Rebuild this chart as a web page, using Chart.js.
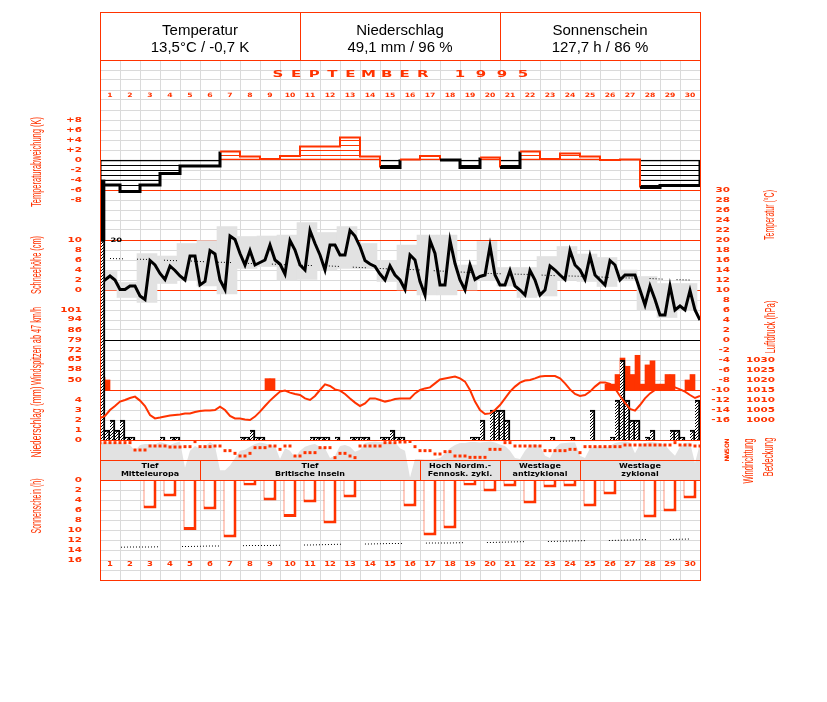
<!DOCTYPE html>
<html lang="de">
<head>
<meta charset="utf-8">
<title>Witterungsverlauf September 1995</title>
<script src="https://cdn.jsdelivr.net/npm/chart.js@4.4.1/dist/chart.umd.min.js"></script>
<style>
  body { margin: 0; background: #fff; }
  canvas { display: block; }
</style>
</head>
<body>
<canvas id="monat" width="827" height="702"></canvas>
<script>
// Witterungsverlauf September 1995 (Tageswerte und 6-stuendliche Termine)

const tage = ['1', '2', '3', '4', '5', '6', '7', '8', '9', '10',
              '11', '12', '13', '14', '15', '16', '17', '18', '19', '20',
              '21', '22', '23', '24', '25', '26', '27', '28', '29', '30'];
const kopfTitel = ['Temperatur', 'Niederschlag', 'Sonnenschein'];
const kopfWerte = ['13,5°C / -0,7 K', '49,1 mm / 96 %', '127,7 h / 86 %'];
const monat = 'SEPTEMBER';
const jahr = '1995';

// Abweichung des Tagesmittels vom Normalwert (K)
const abweichung = [-5.0, -6.3, -5.0, -2.7, -1.2, -1.2, 1.7, 0.7, 0.2, 0.8,
                    2.7, 2.7, 4.5, 0.7, -1.5, 0.1, 0.8, 0.0, -1.5, 0.5,
                    -1.5, 1.7, 0.2, 1.3, 0.7, 0.0, 0.1, -5.5, -5.1, -5.1];

// Lufttemperatur (°C) alle 6 Stunden, 1. 0 Uhr bis 30. 24 Uhr
const temperatur = [11.5, 12.0, 12.8, 12.0, 10.1, 10.1, 10.8, 10.8, 8.8, 8.1,
                    15.9, 15.0, 13.3, 12.1, 14.8, 13.9, 12.8, 12.0, 16.8, 16.8,
                    11.0, 11.7, 17.9, 17.2, 12.0, 10.1, 20.8, 20.1, 17.3, 15.0,
                    17.9, 15.0, 15.5, 16.0, 19.0, 16.0, 15.2, 13.2, 19.9, 18.0,
                    15.0, 14.0, 21.9, 19.3, 17.0, 14.0, 19.0, 19.0, 17.0, 17.0,
                    21.9, 20.8, 18.7, 15.9, 15.2, 14.7, 13.2, 12.0, 14.8, 13.0,
                    12.0, 10.1, 17.0, 16.0, 11.7, 9.0, 19.9, 17.3, 11.0, 11.0,
                    19.9, 15.3, 12.0, 10.0, 15.0, 12.1, 12.7, 13.0, 18.8, 13.0,
                    11.0, 11.0, 13.9, 10.8, 10.0, 9.0, 13.9, 12.0, 9.0, 10.0,
                    14.8, 14.0, 13.0, 12.1, 17.9, 15.0, 14.0, 12.1, 16.8, 13.0,
                    12.0, 11.0, 15.9, 15.0, 12.0, 13.0, 13.0, 13.0, 10.0, 7.0,
                    10.8, 8.1, 5.0, 5.0, 10.8, 6.0, 6.8, 6.0, 9.9, 6.0, 4.0];

// Tagesminimum und -maximum (°C)
const tMin = [10.0, 8.5, 7.5, 11.3, 11.9, 10.8, 9.2, 14.3, 14.7, 12.0,
              12.1, 14.0, 14.3, 14.3, 11.7, 10.0, 9.0, 9.0, 10.0, 12.0,
              10.8, 8.5, 8.8, 12.0, 11.7, 10.7, 12.0, 6.0, 4.5, 5.9];
const tMax = [13.7, 11.5, 17.3, 16.8, 19.3, 19.9, 22.7, 20.7, 20.8, 21.0,
              23.5, 21.5, 22.7, 19.3, 15.9, 19.0, 21.0, 21.0, 15.0, 19.7,
              14.5, 14.5, 16.7, 18.7, 17.2, 16.5, 14.0, 12.7, 11.3, 11.3];
// langjaehriges Tagesmittel (°C)
const tNormal = [16.3, 16.2, 16.1, 15.9, 15.8, 15.6, 15.5, 15.3, 15.2, 15.0,
                 14.9, 14.8, 14.6, 14.4, 14.2, 14.1, 13.9, 13.7, 13.5, 13.3,
                 13.2, 13.1, 12.9, 12.8, 12.7, 12.5, 12.4, 12.3, 12.1, 12.0];

// Niederschlag (mm je 6 h), nur Termine mit Niederschlag
const niederschlagTermin = [0, 1, 2, 3, 4, 5, 6, 12, 14, 15,
                            28, 29, 30, 31, 32, 42, 43, 44, 45, 47,
                            50, 51, 52, 53, 56, 57, 58, 59, 60, 74,
                            75, 76, 78, 79, 80, 81, 90, 94, 98, 102,
                            103, 104, 105, 106, 107, 109, 110, 114, 115, 116,
                            118, 119];
const niederschlagMm = [26.0, 1.0, 2.0, 1.0, 2.0, 0.3, 0.3, 0.3, 0.3, 0.3,
                        0.3, 0.3, 1.0, 0.3, 0.3, 0.3, 0.3, 0.3, 0.3, 0.3,
                        0.3, 0.3, 0.3, 0.3, 0.3, 0.3, 1.0, 0.3, 0.3, 0.3,
                        0.3, 2.0, 3.0, 3.0, 3.0, 2.0, 0.3, 0.3, 3.0, 0.3,
                        4.0, 8.0, 4.0, 2.0, 2.0, 0.3, 1.0, 1.0, 1.0, 0.3,
                        1.0, 4.0];
const niederschlagSkala = 20;   // darueber abgeschnitten und beschriftet

// Windspitzen (km/h je 6 h), nur Termine ueber der Schwelle
const windTermin = [0, 1, 33, 34, 101, 102, 103, 104, 105, 106,
                    107, 108, 109, 110, 111, 112, 113, 114, 117, 118];
const windKmh = [52, 50, 51, 51, 47, 47, 54, 66, 60, 54,
                 68, 47, 61, 64, 47, 47, 54, 54, 50, 54];
const windBasis = 42.7;

// Luftdruck (hPa) alle 6 Stunden
const luftdruck = [1001.0, 1002.0, 1005.0, 1007.0, 1009.2, 1010.0, 1011.0, 1011.7, 1009.7, 1007.0,
                   1002.5, 1000.8, 1001.2, 1001.7, 1002.2, 1002.5, 1002.8, 1003.3, 1003.3, 1004.0,
                   1004.5, 1004.7, 1004.7, 1005.0, 1006.7, 1005.0, 1002.0, 1000.8, 1000.8, 1000.3,
                   1000.0, 1001.7, 1004.2, 1007.0, 1009.7, 1012.0, 1014.2, 1014.7, 1013.7, 1013.0,
                   1012.5, 1010.8, 1010.0, 1012.0, 1015.0, 1017.8, 1017.0, 1015.3, 1014.7, 1013.0,
                   1010.8, 1008.7, 1007.0, 1008.3, 1010.8, 1010.8, 1010.0, 1009.2, 1009.7, 1010.5,
                   1010.8, 1010.8, 1010.8, 1013.3, 1015.0, 1015.8, 1016.3, 1018.3, 1020.3, 1020.8,
                   1021.3, 1021.7, 1020.8, 1019.2, 1015.0, 1009.2, 1005.0, 1003.0, 1003.3, 1005.0,
                   1007.5, 1010.8, 1014.2, 1016.7, 1018.7, 1019.7, 1020.0, 1020.8, 1021.7, 1022.0,
                   1022.0, 1022.0, 1020.8, 1018.3, 1015.3, 1013.0, 1012.0, 1012.5, 1014.2, 1016.7,
                   1018.7, 1018.8, 1018.0, 1015.8, 1012.0, 1008.5, 1005.5, 1004.7, 1007.5, 1010.8,
                   1013.3, 1015.0, 1016.7, 1017.0, 1016.7, 1016.3, 1015.3, 1014.2, 1012.5, 1011.0, 1012.0];

// Windrichtung (Grad) alle 6 Stunden
const windrichtung = [33, 33, 33, 33, 33, 33, 33, 180, 180, 180,
                      100, 100, 100, 100, 120, 120, 120, 113, 113, 13,
                      113, 113, 113, 100, 100, 193, 193, 247, 300, 300,
                      247, 133, 133, 133, 100, 100, 167, 100, 100, 300,
                      300, 233, 233, 233, 133, 133, 133, 333, 247, 247,
                      300, 333, 100, 100, 100, 100, 100, 33, 33, 33,
                      20, 20, 10, 113, 193, 193, 193, 260, 260, 213,
                      213, 300, 300, 300, 327, 327, 327, 327, 167, 167,
                      167, 33, 33, 100, 100, 100, 100, 100, 100, 193,
                      193, 193, 193, 193, 167, 167, 233, 113, 113, 113,
                      113, 113, 113, 113, 113, 80, 80, 80, 80, 80,
                      80, 80, 80, 80, 80, 33, 80, 80, 80, 100, 100];

// Bedeckung (Achtel) alle 6 Stunden
const bedeckung = [7.7, 7.7, 7.7, 7.7, 7.6, 7.4, 7.2, 6.0, 7.2, 7.4,
                   7.4, 7.3, 7.8, 7.5, 7.2, 7.6, 7.9, 2.5, 6.0, 7.0,
                   6.4, 6.8, 7.8, 7.0, 2.0, 2.0, 3.0, 4.5, 6.0, 6.2,
                   6.8, 7.4, 7.7, 7.5, 7.2, 7.0, 4.3, 6.5, 6.0, 4.6,
                   6.0, 6.8, 7.2, 7.4, 6.8, 6.5, 4.5, 5.0, 7.0, 7.2,
                   6.8, 5.8, 6.2, 7.6, 7.8, 7.9, 7.8, 7.7, 7.8, 7.7,
                   6.5, 6.0, 0.5, 4.3, 4.3, 4.2, 4.2, 4.3, 4.5, 5.5,
                   6.5, 7.2, 7.6, 7.6, 7.8, 7.8, 7.7, 7.8, 7.9, 7.7,
                   7.3, 7.0, 6.0, 4.5, 4.3, 6.0, 7.2, 7.4, 7.0, 5.0,
                   4.5, 6.5, 7.5, 7.6, 7.7, 7.7, 5.0, 4.5, 6.5, 6.8,
                   7.0, 6.6, 7.0, 7.6, 7.8, 7.9, 7.7, 5.5, 7.4, 7.6,
                   7.8, 7.7, 7.6, 7.2, 6.0, 5.0, 6.8, 7.6, 7.7, 3.5, 7.5];

// Sonnenscheindauer (h) je Tag und astronomisch moegliche Dauer
const sonnenschein = [0, 0, 5.7, 3.3, 10.0, 5.9, 11.5, 1.1, 4.1, 7.4,
                      4.5, 8.7, 3.5, 0, 0, 5.3, 11.1, 9.7, 1.1, 2.3,
                      1.3, 4.7, 1.5, 1.3, 5.3, 2.9, 0, 7.5, 6.3, 3.7];
const sonneNormal = [13.5, 13.4, 13.4, 13.3, 13.3, 13.2, 13.2, 13.1, 13.1, 13.0,
                     13.0, 12.9, 12.8, 12.8, 12.7, 12.7, 12.6, 12.6, 12.5, 12.5,
                     12.4, 12.3, 12.3, 12.2, 12.1, 12.1, 12.0, 11.9, 11.9, 11.8];

// Grosswetterlagen (Text, letzter Tag)
const wetterlagen = ['Tief|Mitteleuropa', 'Tief|Britische Inseln', 'Hoch Nordm.-|Fennosk. zykl.',
                     'Westlage|antizyklonal', 'Westlage|zyklonal'];
const wetterlagenBis = [5, 16, 20, 24, 30];

// Achsenbeschriftungen
const abwTicks = [8, 6, 4, 2, 0, -2, -4, -6, -8];
const schneeTicks = [10, 8, 6, 4, 2, 0];
const windTicks = [101, 94, 86, 79, 72, 65, 58, 50];
const niederTicks = [4, 3, 2, 1, 0];
const sonneTicks = [0, 2, 4, 6, 8, 10, 12, 14, 16];
const tempTicks = [30, 28, 26, 24, 22, 20, 18, 16, 14, 12, 10, 8, 6, 4, 2, 0,
                   -2, -4, -6, -8, -10, -12, -14, -16];
const druckTicks = [1030, 1025, 1020, 1015, 1010, 1005, 1000];
const richtTicks = [0, 90, 180, 270, 360];
const richtNamen = ['N', 'O', 'S', 'W', 'N'];
const tempLinien = [30, 20, 10];
const druckLinie = 1015;

const rot = '#ff3300';
const grau = '#e2e2e2';
const gitter = '#dadada';
const pixelSchrift = '"DejaVu Sans", sans-serif';
const textSchrift = '"Liberation Sans", Arial, sans-serif';

const leinwand = document.getElementById('monat');
const ctx = leinwand.getContext('2d');

// Schraffuren aus kleinen Kacheln
function muster(b, h, bg, fg, punkte) {
  const c = document.createElement('canvas');
  c.width = b;
  c.height = h;
  const g = c.getContext('2d');
  if (bg) { g.fillStyle = bg; g.fillRect(0, 0, b, h); }
  g.fillStyle = fg;
  punkte.forEach(p => g.fillRect(p[0], p[1], 1, 1));
  return ctx.createPattern(c, 'repeat');
}
const schraeg = muster(3, 3, '#fff', '#000', [[2, 0], [1, 1], [0, 2]]);
const linienSchwarz = muster(1, 5, null, '#000', [[0, 0]]);
const linienRot = muster(1, 5, null, rot, [[0, 0]]);

// Zeichenflaeche 100..700 x 60..580, daraus Achsen: Wert an Pixelzeile, Einheiten je Pixel
const flOben = 60, flUnten = 580;
function achse(wert, zeile, proPixel, umgekehrt) {
  const a = {type: 'linear', display: false, axis: 'y', position: 'left', beginAtZero: false};
  if (umgekehrt) {
    a.min = wert - (zeile - flOben) * proPixel;
    a.max = wert + (flUnten - zeile) * proPixel;
    a.reverse = true;
  } else {
    a.min = wert - (flUnten - zeile) * proPixel;
    a.max = wert + (zeile - flOben) * proPixel;
  }
  return a;
}
const tagAchse = () => ({type: 'linear', display: false, axis: 'x', position: 'bottom',
                         min: 0, max: 30, offset: false, grid: {offset: false}});

const proTag = 4;
const termin = werte => werte.map((v, i) => ({x: i / proTag, y: v}));
const tagMitte = werte => werte.map((v, i) => ({x: i + 0.5, y: v}));
const slotMitte = k => (k + 0.5) / proTag;

const abwStufen = [{x: 0, y: 0}]
  .concat(abweichung.map((v, i) => ({x: i, y: v})))
  .concat([{x: 30, y: abweichung[29]}, {x: 30, y: 0}]);
function negativ(c) {
  const a = c.p0.parsed.y, b = c.p1.parsed.y;
  return a < 0 || (a === 0 && b < 0);
}

function text(c, s, x, y, o) {
  c.save();
  c.translate(x, y);
  if (o.rot) c.rotate(o.rot);
  c.font = o.font;
  let sx = o.sx || 1;
  if (o.laenge) sx = o.laenge / c.measureText(s).width;
  c.scale(sx, o.sy || 1);
  c.fillStyle = o.farbe || rot;
  c.textAlign = o.align || 'center';
  c.textBaseline = 'middle';
  c.fillText(s, 0, 0);
  c.restore();
}
function linie(c, a, y, farbe) {
  c.fillStyle = farbe;
  c.fillRect(a.left, Math.round(y), a.right - a.left, 1);
}

const tickStil = {font: 'bold 8px ' + pixelSchrift, sx: 1.3, sy: 0.85, align: 'right'};
const hoch = -Math.PI / 2;

const rahmen = {
  id: 'rahmen',
  beforeDraw(chart) {
    const c = chart.ctx;
    c.save();
    c.fillStyle = '#fff';
    c.fillRect(0, 0, chart.width, chart.height);
    c.restore();
  },
  beforeDatasetsDraw(chart) {
    const {ctx: c, chartArea: a, scales: s} = chart;
    c.save();
    const sOben = s.nieder.getPixelForValue(0), sUnten = s.bed.getPixelForValue(0);
    c.fillStyle = '#fff';
    c.fillRect(a.left, sOben, a.right - a.left, sUnten - sOben);
    tempLinien.forEach(t => linie(c, a, s.temp.getPixelForValue(t), rot));
    linie(c, a, s.temp.getPixelForValue(0), '#000');
    linie(c, a, s.druck.getPixelForValue(druckLinie), rot);
    c.restore();
  },
  afterDatasetsDraw(chart) {
    const {ctx: c, chartArea: a, scales: s} = chart;
    c.save();
    const sOben = s.nieder.getPixelForValue(0), sUnten = s.bed.getPixelForValue(0);
    const sMitte = (sOben + sUnten) / 2;
    linie(c, a, sOben, rot);
    linie(c, a, sMitte, rot);
    linie(c, a, sUnten, rot);

    // Grosswetterlagen
    let von = 0;
    wetterlagen.forEach((w, i) => {
      const bis = wetterlagenBis[i];
      const x0 = s.x.getPixelForValue(von), x1 = s.x.getPixelForValue(bis);
      if (von > 0) { c.fillStyle = rot; c.fillRect(Math.round(x0), sMitte, 1, sUnten - sMitte); }
      const z = w.split('|');
      const st = {font: 'bold 8px ' + pixelSchrift, sy: 0.85, farbe: '#000'};
      text(c, z[0], (x0 + x1) / 2, sMitte + 6, st);
      text(c, z[1], (x0 + x1) / 2, sMitte + 14, st);
      von = bis;
    });

    // Rahmen und Kopf
    c.strokeStyle = rot;
    c.lineWidth = 1;
    c.strokeRect(a.left + 0.5, 12.5, a.right - a.left, a.bottom - 12);
    linie(c, a, flOben, rot);
    kopfTitel.forEach((t, i) => {
      const xm = s.x.getPixelForValue(i * 10 + 5);
      if (i > 0) { c.fillStyle = rot; c.fillRect(Math.round(s.x.getPixelForValue(i * 10)), 12, 1, flOben - 12); }
      text(c, t, xm, 31, {font: '15px ' + textSchrift, farbe: '#000'});
      text(c, kopfWerte[i], xm, 48, {font: '15px ' + textSchrift, farbe: '#000'});
    });

    // Monat und Jahr, gesperrt
    const gross = {font: 'bold 10px ' + pixelSchrift, sx: 1.5, sy: 0.95};
    monat.split('').forEach((b, i) => text(c, b, 278 + i * 18.1, 75, gross));
    jahr.split('').forEach((b, i) => text(c, b, 460 + i * 21, 75, gross));

    // Tage oben und unten
    tage.forEach((t, i) => {
      const xm = s.x.getPixelForValue(i + 0.5);
      text(c, t, xm, 95, {font: 'bold 7px ' + pixelSchrift, sx: 1.1, sy: 0.85});
      text(c, t, xm, 564, {font: 'bold 8px ' + pixelSchrift, sx: 1.05, sy: 0.9});
    });

    // Achsenbeschriftungen links
    abwTicks.forEach(v => text(c, v > 0 ? '+' + v : String(v), 82, s.abw.getPixelForValue(v), tickStil));
    schneeTicks.forEach(v => text(c, String(v), 82, s.schnee.getPixelForValue(v), tickStil));
    windTicks.forEach(v => text(c, String(v), 82, s.wind.getPixelForValue(v), tickStil));
    niederTicks.forEach(v => text(c, String(v), 82, s.nieder.getPixelForValue(v), tickStil));
    sonneTicks.forEach(v => text(c, String(v), 82, s.sonne.getPixelForValue(v), tickStil));
    // rechts
    tempTicks.forEach(v => text(c, String(v), 730, s.temp.getPixelForValue(v), tickStil));
    druckTicks.forEach(v => text(c, String(v), 775, s.druck.getPixelForValue(v), tickStil));
    richtTicks.forEach((v, i) => text(c, richtNamen[i], 727, s.richt.getPixelForValue(v),
      {font: 'bold 6px ' + pixelSchrift, rot: hoch}));

    // Achsentitel, schmal gestaucht
    const titel = (t, x, y, l) => text(c, t, x, y, {font: '14px ' + textSchrift, rot: hoch, laenge: l});
    titel('Temperaturabweichung (K)', 37, 162, 90);
    titel('Schneehöhe (cm)', 37, 265, 58);
    titel('Windspitzen ab 47 km/h', 37, 346, 78);
    titel('Niederschlag (mm)', 37, 422, 71);
    titel('Sonnenschein (h)', 37, 506, 55);
    titel('Temperatur (°C)', 770, 215, 50);
    titel('Luftdruck (hPa)', 771, 327, 53);
    titel('Windrichtung', 749, 461, 45);
    titel('Bedeckung', 769, 457, 39);

    // abgeschnittener Niederschlag
    niederschlagTermin.forEach((k, i) => {
      if (niederschlagMm[i] > niederschlagSkala) {
        text(c, String(niederschlagSkala), s.xq.getPixelForValue(slotMitte(k)) + 8,
          s.nieder.getPixelForValue(niederschlagSkala),
          {font: 'bold 7px ' + pixelSchrift, farbe: '#000', align: 'left', sx: 1.2, sy: 0.85});
      }
    });
    c.restore();
  }
};

new Chart(ctx, {
  type: 'bar',
  data: {
    datasets: [
      {
        type: 'line', label: 'Bedeckung', data: termin(bedeckung),
        xAxisID: 'x', yAxisID: 'bed', fill: {value: 0},
        backgroundColor: grau, borderWidth: 0, pointRadius: 0, order: 20
      },
      {
        label: 'Tagesextreme', data: tMin.map((v, i) => ({x: i + 0.35, y: [v, tMax[i]]})),
        xAxisID: 'xg', yAxisID: 'temp', backgroundColor: grau,
        grouped: false, barPercentage: 1, categoryPercentage: 1, order: 19
      },
      {
        label: 'Sonnenschein', data: tagMitte(sonnenschein).filter(p => p.y > 0),
        xAxisID: 'xd', yAxisID: 'sonne', backgroundColor: '#fff', borderColor: rot,
        borderWidth: {top: 0, left: 1, right: 3, bottom: 3}, borderSkipped: false,
        grouped: false, barPercentage: 0.65, categoryPercentage: 1, order: 15
      },
      {
        label: 'Abweichung', data: tagMitte(abweichung),
        xAxisID: 'xd', yAxisID: 'abw',
        backgroundColor: c => (c.raw && c.raw.y < 0 ? linienSchwarz : linienRot),
        borderColor: c => (c.raw && c.raw.y < 0 ? '#000' : rot),
        borderWidth: c => (c.raw && c.raw.y < 0 ? {top: 1, bottom: 0, left: 0, right: 0}
                                                : {top: 0, bottom: 1, left: 0, right: 0}),
        borderSkipped: false, grouped: false, barPercentage: 1, categoryPercentage: 1, order: 14
      },
      {
        type: 'line', label: 'Abweichung Umriss', data: abwStufen,
        xAxisID: 'x', yAxisID: 'abw', stepped: true, pointRadius: 0,
        borderColor: '#000', borderWidth: 3,
        segment: {
          borderColor: c => (negativ(c) ? '#000' : rot),
          borderWidth: c => (negativ(c) ? 3 : 2)
        },
        order: 13
      },
      {
        type: 'line', label: 'Normal', data: tagMitte(tNormal),
        xAxisID: 'xd', yAxisID: 'temp', borderColor: '#000', borderWidth: 1,
        borderDash: [1, 2, 1, 2, 1, 2, 1, 2, 1, 14], pointRadius: 0, order: 12
      },
      {
        type: 'line', label: 'Temperatur', data: termin(temperatur),
        xAxisID: 'x', yAxisID: 'temp', borderColor: '#000', borderWidth: 3,
        pointRadius: 0, tension: 0, order: 11
      },
      {
        label: 'Windspitzen', data: windTermin.map((k, i) => ({x: slotMitte(k), y: windKmh[i]})),
        xAxisID: 'xq', yAxisID: 'wind', base: windBasis, backgroundColor: rot,
        grouped: false, barPercentage: 1, categoryPercentage: 1, order: 10
      },
      {
        label: 'Niederschlag',
        data: niederschlagTermin.map((k, i) => ({x: slotMitte(k), y: Math.min(niederschlagMm[i], niederschlagSkala)})),
        xAxisID: 'xq', yAxisID: 'nieder', backgroundColor: schraeg, borderColor: '#000',
        borderWidth: {top: 2, right: 2, bottom: 0, left: 0}, borderSkipped: false,
        grouped: false, barPercentage: 1, categoryPercentage: 1, order: 8
      },
      {
        label: 'Niederschlag ueber Skala',
        data: niederschlagTermin.map((k, i) => ({x: slotMitte(k), y: [niederschlagSkala, niederschlagMm[i]]}))
          .filter(p => p.y[1] > niederschlagSkala),
        xAxisID: 'xq', yAxisID: 'nieder', backgroundColor: '#000',
        grouped: false, barPercentage: 1, categoryPercentage: 1, order: 8
      },
      {
        type: 'line', label: 'Luftdruck', data: termin(luftdruck),
        xAxisID: 'x', yAxisID: 'druck', borderColor: rot, borderWidth: 2,
        pointRadius: 0, order: 7
      },
      {
        type: 'line', label: 'Windrichtung', data: termin(windrichtung),
        xAxisID: 'x', yAxisID: 'richt', showLine: false, pointStyle: 'rect',
        pointRadius: 2.1, pointBackgroundColor: rot, pointBorderWidth: 0, order: 6
      },
      {
        type: 'line', label: 'Sonne moeglich', data: tagMitte(sonneNormal),
        xAxisID: 'xd', yAxisID: 'sonne', borderColor: '#000', borderWidth: 1,
        borderDash: [1, 2, 1, 2, 1, 2, 1, 2, 1, 2, 1, 2, 1, 2, 1, 2, 1, 2, 1, 2, 1, 2, 1, 2, 1, 24],
        borderDashOffset: 50, pointRadius: 0, order: 5
      }
    ]
  },
  options: {
    responsive: false,
    devicePixelRatio: 1,
    animation: false,
    events: [],
    layout: { padding: {left: 100, top: 60, right: 127, bottom: 122} },
    plugins: {
      legend: { display: false },
      tooltip: { enabled: false }
    },
    scales: {
      x: {
        type: 'linear', min: 0, max: 30, offset: false,
        ticks: { stepSize: 1, display: false },
        grid: { color: gitter, drawTicks: false, offset: false },
        border: { display: false },
        afterFit: sc => { sc.height = 0; }
      },
      y: {
        type: 'linear', min: 0, max: 52, beginAtZero: false,
        ticks: { stepSize: 1, display: false },
        grid: { color: gitter, drawTicks: false },
        border: { display: false },
        afterFit: sc => { sc.width = 0; }
      },
      xd: tagAchse(),
      xg: tagAchse(),
      xq: tagAchse(),
      abw: achse(0, 160, 0.2),
      temp: achse(0, 340, 0.2),
      schnee: achse(0, 290, 0.2),
      wind: achse(50, 380, 51 / 70),
      nieder: achse(0, 440, 0.1),
      druck: achse(1015, 390, 0.5),
      richt: achse(0, 441, 20, true),
      bed: achse(0, 480, 8 / 39),
      sonne: achse(0, 480, 0.2, true)
    }
  },
  plugins: [rahmen]
});
</script>
</body>
</html>
